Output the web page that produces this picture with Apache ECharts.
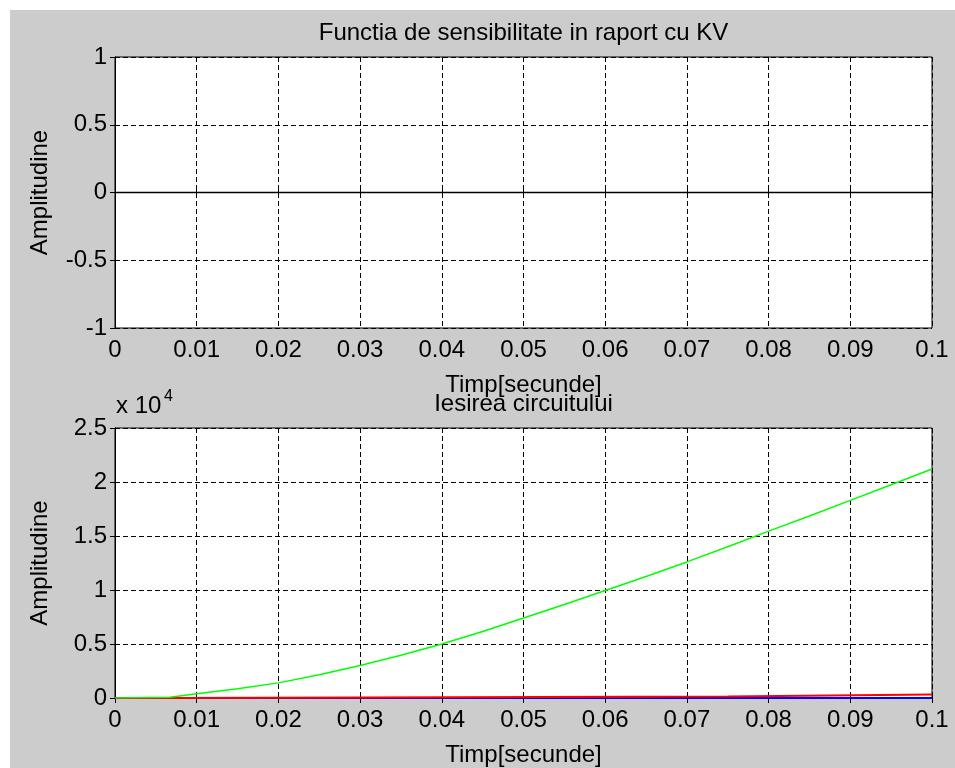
<!DOCTYPE html>
<html><head><meta charset="utf-8">
<script src="https://cdn.jsdelivr.net/npm/echarts@6/dist/echarts.min.js"></script>
<style>html,body{margin:0;padding:0;background:#fff}#c{position:absolute;left:10px;top:10px;width:945px;height:758px}</style>
</head><body><div id="c"></div>
<script>
// Data (x in seconds)
const timeTop = [0, 0.1];
const sensKV = [0, 0];
const timeOut = [0, 0.0067, 0.01, 0.015, 0.02, 0.025, 0.03, 0.035, 0.04, 0.045, 0.05, 0.055, 0.06, 0.065, 0.07, 0.075, 0.08, 0.085, 0.09, 0.095, 0.1];
const greenOut = [0, 60, 400, 850, 1400, 2150, 3000, 3950, 5000, 6150, 7400, 8650, 9950, 11250, 12600, 14000, 15450, 16850, 18300, 19750, 21200];
const redTime = [0, 0.0067, 0.0067, 0.075, 0.075, 0.1];
const redOut = [0, 0, 150, 150, 330, 330];
const blueTime = [0, 0.1];
const blueOut = [0, 0];
const xTicks = {min: 0, max: 0.1, step: 0.01};
const yTop = {min: -1, max: 1, step: 0.5};
const yBot = {min: 0, max: 25000, step: 5000};

const FONT = '"Liberation Sans", Arial, sans-serif';
const FS = 24;
const pairs = (xs, ys) => xs.map((x, i) => [x, ys[i]]);
const gTop = {left: 105, top: 47, width: 817, height: 271};
const gBot = {left: 105, top: 418, width: 817, height: 273};

function xAx(gi, label) {
  return {type: 'value', gridIndex: gi, min: xTicks.min, max: xTicks.max, interval: xTicks.step,
    axisLine: {show: true, lineStyle: {color: '#000', width: 1}},
    axisTick: {inside: true, length: 5, lineStyle: {color: '#000'}},
    axisLabel: {color: '#000', fontFamily: FONT, fontSize: FS, margin: 10,
      formatter: v => String(+v.toFixed(2))},
    splitLine: {show: true, lineStyle: {color: '#000', type: [5, 3], width: 1}},
    name: label, nameLocation: 'middle', nameGap: 45,
    nameTextStyle: {color: '#000', fontFamily: FONT, fontSize: FS}};
}
function xMirror(gi) {
  return {type: 'value', gridIndex: gi, position: 'top', min: xTicks.min, max: xTicks.max, interval: xTicks.step,
    axisLine: {show: true, lineStyle: {color: '#000'}}, axisTick: {inside: true, length: 5, lineStyle: {color: '#000'}},
    axisLabel: {show: false}, splitLine: {show: false}};
}
function yAx(gi, r, fmt) {
  return {type: 'value', gridIndex: gi, min: r.min, max: r.max, interval: r.step,
    axisLine: {show: true, lineStyle: {color: '#000'}},
    axisTick: {inside: true, length: 5, lineStyle: {color: '#000'}},
    axisLabel: {color: '#000', fontFamily: FONT, fontSize: FS, margin: 8, formatter: fmt},
    splitLine: {show: true, lineStyle: {color: '#000', type: [5, 3], width: 1}},
    name: 'Amplitudine', nameLocation: 'middle', nameGap: 63,
    nameTextStyle: {color: '#000', fontFamily: FONT, fontSize: FS}};
}
function yMirror(gi, r) {
  return {type: 'value', gridIndex: gi, position: 'right', min: r.min, max: r.max, interval: r.step,
    axisLine: {show: true, lineStyle: {color: '#000'}}, axisTick: {inside: true, length: 5, lineStyle: {color: '#000'}},
    axisLabel: {show: false}, splitLine: {show: false}};
}
const ts = (size) => ({color: '#000', fontFamily: FONT, fontSize: size, fontWeight: 'normal'});

const chart = echarts.init(document.getElementById('c'), null, {renderer: 'canvas'});
chart.setOption({
  backgroundColor: '#cccccc',
  animation: false,
  title: [
    {text: 'Functia de sensibilitate in raport cu KV', left: 513.5, top: 11, padding: 0, textAlign: 'center', textStyle: ts(FS)},
    {text: 'Iesirea circuitului', left: 513.5, top: 382, padding: 0, textAlign: 'center', textStyle: ts(FS)},
    {text: 'x 10', left: 106, top: 384, padding: 0, textStyle: ts(FS)},
    {text: '4', left: 154, top: 379, padding: 0, textStyle: ts(16)}
  ],
  grid: [
    Object.assign({show: true, backgroundColor: '#fff', borderColor: '#000', borderWidth: 1}, gTop),
    Object.assign({show: true, backgroundColor: '#fff', borderColor: '#000', borderWidth: 1}, gBot)
  ],
  xAxis: [xAx(0, 'Timp[secunde]'), xMirror(0), xAx(1, 'Timp[secunde]'), xMirror(1)],
  yAxis: [yAx(0, yTop, v => String(v)), yMirror(0, yTop), yAx(1, yBot, v => String(v / 1e4)), yMirror(1, yBot)],
  series: [
    {type: 'line', xAxisIndex: 0, yAxisIndex: 0, data: pairs(timeTop, sensKV), symbol: 'none',
      lineStyle: {color: '#000', width: 1.5}},
    {type: 'line', xAxisIndex: 2, yAxisIndex: 2, data: pairs(blueTime, blueOut), symbol: 'none',
      lineStyle: {color: '#0000ff', width: 2}},
    {type: 'line', xAxisIndex: 2, yAxisIndex: 2, data: pairs(redTime, redOut), symbol: 'none',
      lineStyle: {color: '#ff0000', width: 2}},
    {type: 'line', xAxisIndex: 2, yAxisIndex: 2, data: pairs(timeOut, greenOut), symbol: 'none', smooth: false,
      lineStyle: {color: '#00ff00', width: 1.5}}
  ]
});
</script></body></html>
